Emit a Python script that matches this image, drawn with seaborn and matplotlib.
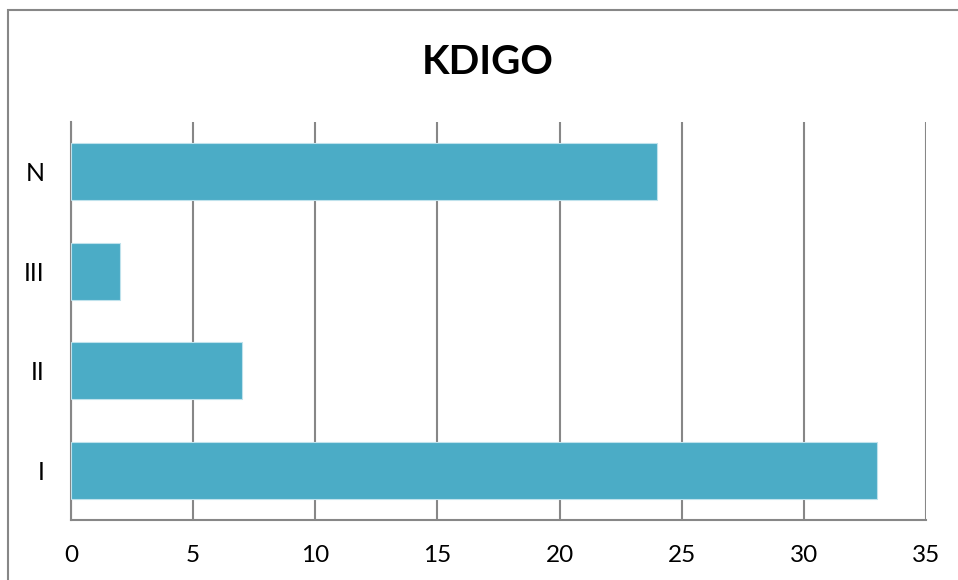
import matplotlib
matplotlib.use("Agg")
import matplotlib.pyplot as plt
from matplotlib.patches import Rectangle
import seaborn as sns
import pandas as pd

# KDIGO stage counts
stages = ["N", "III", "II", "I"]
counts = [24, 2, 7, 33]
x_ticks = [0, 5, 10, 15, 20, 25, 30, 35]
title = "KDIGO"

sns.set_style("white")
plt.rcParams["font.family"] = ["Lato", "DejaVu Sans"]

df = pd.DataFrame({"stage": stages, "count": counts})

fig = plt.figure(figsize=(9.58, 5.80), dpi=100)
ax = fig.add_axes([71 / 958, 1 - 520 / 580, (926 - 71) / 958, (520 - 122) / 580])

grid_color = "#878787"
sns.barplot(data=df, x="count", y="stage", order=stages, orient="h",
            color="#4BACC6", saturation=1, width=0.57,
            edgecolor="#bfe2ec", linewidth=0.8, ax=ax, zorder=3)

ax.set_xlim(0, 35)
ax.set_ylim(3.5, -0.5)
ax.set_xticks(x_ticks)
ax.set_xticklabels([str(t) for t in x_ticks])
ax.set_xlabel("")
ax.set_ylabel("")

ax.grid(axis="x", color=grid_color, linewidth=1.5, zorder=0)
ax.grid(axis="y", visible=False)
ax.set_axisbelow(True)
for side in ["top", "right"]:
    ax.spines[side].set_visible(False)
for side in ["left", "bottom"]:
    ax.spines[side].set_color(grid_color)
    ax.spines[side].set_linewidth(1.5)

ax.tick_params(axis="x", length=0, pad=18, labelsize=17.5, colors="black")
ax.tick_params(axis="y", length=0, pad=19, labelsize=18, colors="black")

fig.text(488 / 958, 1 - 62 / 580, title, ha="center", va="center",
         fontsize=29, fontweight="bold", color="black")

# outer chart frame
fig.patches.append(Rectangle((8 / 958, -0.2), 1.5, 1.2 - 10 / 580,
                             transform=fig.transFigure, fill=False,
                             edgecolor=grid_color, linewidth=1.5))

fig.savefig("out.png", dpi=100)
